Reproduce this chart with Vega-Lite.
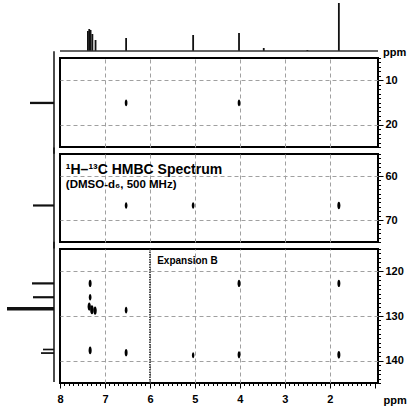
{
  "$schema": "https://vega.github.io/schema/vega-lite/v6.json",
  "padding": {"left": 4, "top": 2, "right": 0, "bottom": 0},
  "bounds": "flush",
  "columns": 2,
  "spacing": {"row": 7, "column": 6},
  "config": {
    "view": {"stroke": null},
    "font": "Liberation Sans",
    "axis": {"labelFont": "Liberation Sans", "labelFontSize": 11, "labelFontWeight": "bold", "labelColor": "black", "tickColor": "black", "gridColor": "#a0a0a0", "gridDash": [4, 3], "gridWidth": 1}
  },
  "datasets": {
    "h1": [
      {"ppm": 7.38, "intensity": 20}, {"ppm": 7.35, "intensity": 22}, {"ppm": 7.32, "intensity": 21},
      {"ppm": 7.28, "intensity": 17}, {"ppm": 7.21, "intensity": 11}, {"ppm": 6.53, "intensity": 13},
      {"ppm": 5.04, "intensity": 16}, {"ppm": 4.02, "intensity": 18}, {"ppm": 3.47, "intensity": 3},
      {"ppm": 2.5, "intensity": 1}, {"ppm": 1.8, "intensity": 48}
    ],
    "c13": [
      {"panel": 1, "c": 15.1, "intensity": 24},
      {"panel": 2, "c": 66.7, "intensity": 21},
      {"panel": 3, "c": 122.7, "intensity": 22},
      {"panel": 3, "c": 125.8, "intensity": 21},
      {"panel": 3, "c": 128.4, "intensity": 47},
      {"panel": 3, "c": 137.5, "intensity": 11},
      {"panel": 3, "c": 138.3, "intensity": 13}
    ],
    "cross": [
      {"panel": 1, "h": 6.53, "c": 15.1, "intensity": 1},
      {"panel": 1, "h": 4.02, "c": 15.1, "intensity": 1},
      {"panel": 2, "h": 6.53, "c": 66.7, "intensity": 1},
      {"panel": 2, "h": 5.04, "c": 66.7, "intensity": 1},
      {"panel": 2, "h": 1.8, "c": 66.7, "intensity": 1.3},
      {"panel": 3, "h": 7.33, "c": 122.7, "intensity": 1.2},
      {"panel": 3, "h": 4.02, "c": 122.7, "intensity": 1.2},
      {"panel": 3, "h": 1.8, "c": 122.7, "intensity": 1.2},
      {"panel": 3, "h": 7.33, "c": 125.8, "intensity": 1},
      {"panel": 3, "h": 7.35, "c": 127.9, "intensity": 1.5},
      {"panel": 3, "h": 7.29, "c": 128.6, "intensity": 1.8},
      {"panel": 3, "h": 7.22, "c": 128.8, "intensity": 1.5},
      {"panel": 3, "h": 6.53, "c": 128.7, "intensity": 1},
      {"panel": 3, "h": 7.33, "c": 137.7, "intensity": 1.3},
      {"panel": 3, "h": 6.53, "c": 138.2, "intensity": 1.2},
      {"panel": 3, "h": 5.04, "c": 138.8, "intensity": 0.8},
      {"panel": 3, "h": 4.02, "c": 138.7, "intensity": 1.1},
      {"panel": 3, "h": 1.8, "c": 138.7, "intensity": 1.3}
    ]
  },
  "concat": [
    {
      "width": 50, "height": 49,
      "data": {"values": [{}]},
      "mark": {"type": "text", "text": ""},
      "encoding": {}
    },
    {
      "width": 318, "height": 49,
      "layer": [
        {
          "data": {"name": "h1"},
          "mark": {"type": "rule", "strokeWidth": 1.8, "color": "#111"},
          "encoding": {
            "x": {"field": "ppm", "type": "quantitative", "scale": {"domain": [8, 0.93], "nice": false, "zero": false}, "axis": null},
            "y": {"field": "intensity", "type": "quantitative", "scale": {"domain": [0, 49], "nice": false}, "axis": null},
            "y2": {"datum": 0}
          }
        },
        {
          "data": {"values": [{}]},
          "mark": {"type": "rule", "strokeWidth": 1.5, "color": "#333"},
          "encoding": {"y": {"datum": 0, "type": "quantitative"}}
        },
        {
          "data": {"values": [{}]},
          "mark": {"type": "text", "text": "ppm", "align": "left", "baseline": "middle", "fontSize": 11, "fontWeight": "bold", "color": "black"},
          "encoding": {"x": {"datum": 0.82, "type": "quantitative"}, "y": {"datum": -1.5, "type": "quantitative"}}
        }
      ]
    },
    {
      "width": 50, "height": 89,
      "layer": [
        {
          "data": {"name": "c13"},
          "transform": [{"filter": "datum.panel == 1"}],
          "mark": {"type": "rule", "color": "#111"},
          "encoding": {
            "y": {"field": "c", "type": "quantitative", "scale": {"domain": [5, 25], "reverse": true, "nice": false, "zero": false}, "axis": null},
            "x": {"field": "intensity", "type": "quantitative", "scale": {"domain": [0, 50], "reverse": true, "nice": false}, "axis": null},
            "x2": {"datum": 0},
            "strokeWidth": {"field": "intensity", "type": "quantitative", "scale": {"domain": [10, 47], "range": [1.6, 3.5]}, "legend": null}
          }
        },
        {
          "data": {"values": [{}]},
          "mark": {"type": "rule", "color": "#111", "strokeWidth": 1.5},
          "encoding": {"x": {"datum": 0, "type": "quantitative"}, "y": {"datum": 3.5, "type": "quantitative"}, "y2": {"datum": 26.5}}
        }
      ]
    },
    {
      "width": 318, "height": 89,
      "view": {"stroke": "black", "strokeWidth": 2},
      "layer": [
        {
          "data": {"name": "cross"},
          "transform": [{"filter": "datum.panel == 1"}],
          "mark": {"type": "point", "filled": true, "color": "black", "opacity": 1, "shape": "M0,-1A0.4,1,0,1,1,0,1A0.4,1,0,1,1,0,-1Z"},
          "encoding": {
            "x": {"field": "h", "type": "quantitative", "scale": {"domain": [8, 0.93], "nice": false, "zero": false},
                  "axis": {"orient": "bottom", "values": [7, 6, 5, 4, 3, 2], "grid": true, "labels": false, "ticks": false, "domain": false, "title": null}},
            "y": {"field": "c", "type": "quantitative", "scale": {"domain": [5, 25], "reverse": true, "nice": false, "zero": false},
                  "axis": {"orient": "right", "tickCount": 20, "domain": false, "title": null, "labelOverlap": false, "labelBound": false, "labelFlush": false,
                           "labelExpr": "datum.value % 10 === 0 ? datum.value : ''", "labelPadding": 2,
                           "tickSize": {"condition": {"test": "datum.value % 10 === 0", "value": 5}, "value": 2.5},
                           "grid": true, "gridOpacity": {"condition": {"test": "datum.value % 10 === 0", "value": 1}, "value": 0}}},
            "size": {"field": "intensity", "type": "quantitative", "scale": {"domain": [0, 2], "range": [0, 90]}, "legend": null}
          }
        }
      ]
    },
    {
      "width": 50, "height": 88,
      "layer": [
        {
          "data": {"name": "c13"},
          "transform": [{"filter": "datum.panel == 2"}],
          "mark": {"type": "rule", "color": "#111"},
          "encoding": {
            "y": {"field": "c", "type": "quantitative", "scale": {"domain": [55, 75], "reverse": true, "nice": false, "zero": false}, "axis": null},
            "x": {"field": "intensity", "type": "quantitative", "scale": {"domain": [0, 50], "reverse": true, "nice": false}, "axis": null},
            "x2": {"datum": 0},
            "strokeWidth": {"field": "intensity", "type": "quantitative", "scale": {"domain": [10, 47], "range": [1.6, 3.5]}, "legend": null}
          }
        },
        {
          "data": {"values": [{}]},
          "mark": {"type": "rule", "color": "#111", "strokeWidth": 1.5},
          "encoding": {"x": {"datum": 0, "type": "quantitative"}, "y": {"datum": 53.5, "type": "quantitative"}, "y2": {"datum": 76.5}}
        }
      ]
    },
    {
      "width": 318, "height": 88,
      "view": {"stroke": "black", "strokeWidth": 2},
      "layer": [
        {
          "data": {"name": "cross"},
          "transform": [{"filter": "datum.panel == 2"}],
          "mark": {"type": "point", "filled": true, "color": "black", "opacity": 1, "shape": "M0,-1A0.4,1,0,1,1,0,1A0.4,1,0,1,1,0,-1Z"},
          "encoding": {
            "x": {"field": "h", "type": "quantitative", "scale": {"domain": [8, 0.93], "nice": false, "zero": false},
                  "axis": {"orient": "bottom", "values": [7, 6, 5, 4, 3, 2], "grid": true, "labels": false, "ticks": false, "domain": false, "title": null}},
            "y": {"field": "c", "type": "quantitative", "scale": {"domain": [55, 75], "reverse": true, "nice": false, "zero": false},
                  "axis": {"orient": "right", "tickCount": 20, "domain": false, "title": null, "labelOverlap": false, "labelBound": false, "labelFlush": false,
                           "labelExpr": "datum.value % 10 === 0 ? datum.value : ''", "labelPadding": 2,
                           "tickSize": {"condition": {"test": "datum.value % 10 === 0", "value": 5}, "value": 2.5},
                           "grid": true, "gridOpacity": {"condition": {"test": "datum.value % 10 === 0", "value": 1}, "value": 0}}},
            "size": {"field": "intensity", "type": "quantitative", "scale": {"domain": [0, 2], "range": [0, 90]}, "legend": null}
          }
        },
        {
          "data": {"values": [{}]},
          "mark": {"type": "text", "text": "¹H–¹³C HMBC Spectrum", "align": "left", "baseline": "alphabetic", "fontSize": 14, "fontWeight": "bold", "color": "black"},
          "encoding": {"x": {"datum": 7.87, "type": "quantitative"}, "y": {"datum": 59.6, "type": "quantitative"}}
        },
        {
          "data": {"values": [{}]},
          "mark": {"type": "text", "text": "(DMSO-d₆, 500 MHz)", "align": "left", "baseline": "alphabetic", "fontSize": 11.5, "fontWeight": "bold", "color": "black", "font": "Liberation Sans, DejaVu Sans"},
          "encoding": {"x": {"datum": 7.87, "type": "quantitative"}, "y": {"datum": 62.7, "type": "quantitative"}}
        }
      ]
    },
    {
      "width": 50, "height": 134,
      "layer": [
        {
          "data": {"name": "c13"},
          "transform": [{"filter": "datum.panel == 3"}],
          "mark": {"type": "rule", "color": "#111"},
          "encoding": {
            "y": {"field": "c", "type": "quantitative", "scale": {"domain": [115, 145], "reverse": true, "nice": false, "zero": false}, "axis": null},
            "x": {"field": "intensity", "type": "quantitative", "scale": {"domain": [0, 50], "reverse": true, "nice": false}, "axis": null},
            "x2": {"datum": 0},
            "strokeWidth": {"field": "intensity", "type": "quantitative", "scale": {"domain": [10, 47], "range": [1.6, 3.5]}, "legend": null}
          }
        },
        {
          "data": {"values": [{}]},
          "mark": {"type": "rule", "color": "#111", "strokeWidth": 1.5},
          "encoding": {"x": {"datum": 0, "type": "quantitative"}, "y": {"datum": 113.4, "type": "quantitative"}, "y2": {"datum": 144.8}}
        }
      ]
    },
    {
      "width": 318, "height": 134,
      "view": {"stroke": "black", "strokeWidth": 2},
      "layer": [
        {
          "data": {"name": "cross"},
          "transform": [{"filter": "datum.panel == 3"}],
          "mark": {"type": "point", "filled": true, "color": "black", "opacity": 1, "shape": "M0,-1A0.4,1,0,1,1,0,1A0.4,1,0,1,1,0,-1Z"},
          "encoding": {
            "x": {"field": "h", "type": "quantitative", "scale": {"domain": [8, 0.93], "nice": false, "zero": false},
                  "axis": {"orient": "bottom", "tickCount": 70, "domain": false, "labelOverlap": false, "labelBound": false, "labelFlush": false,
                           "labelExpr": "abs(datum.value - round(datum.value)) < 0.01 && datum.value > 1.5 ? format(datum.value, 'd') : ''",
                           "labelPadding": 5,
                           "tickSize": {"condition": {"test": "abs(datum.value - round(datum.value)) < 0.01", "value": 5}, "value": 2.5},
                           "grid": true, "gridOpacity": {"condition": {"test": "abs(datum.value - round(datum.value)) < 0.01 && datum.value > 1.5 && datum.value < 7.5", "value": 1}, "value": 0},
                           "title": "ppm", "titleFont": "Liberation Sans", "titleFontSize": 11, "titleFontWeight": "bold", "titleColor": "black",
                           "titleAlign": "left", "titleBaseline": "middle", "titleX": 323, "titleY": 17}},
            "y": {"field": "c", "type": "quantitative", "scale": {"domain": [115, 145], "reverse": true, "nice": false, "zero": false},
                  "axis": {"orient": "right", "tickCount": 30, "domain": false, "title": null, "labelOverlap": false, "labelBound": false, "labelFlush": false,
                           "labelExpr": "datum.value % 10 === 0 ? datum.value : ''", "labelPadding": 2,
                           "tickSize": {"condition": {"test": "datum.value % 10 === 0", "value": 5}, "value": 2.5},
                           "grid": true, "gridOpacity": {"condition": {"test": "datum.value % 10 === 0", "value": 1}, "value": 0}}},
            "size": {"field": "intensity", "type": "quantitative", "scale": {"domain": [0, 2], "range": [0, 90]}, "legend": null}
          }
        },
        {
          "data": {"values": [{}]},
          "mark": {"type": "rule", "strokeDash": [1.5, 1], "strokeWidth": 1.5, "color": "#222"},
          "encoding": {"x": {"datum": 6, "type": "quantitative"}}
        },
        {
          "data": {"values": [{}]},
          "mark": {"type": "text", "text": "Expansion B", "align": "left", "baseline": "alphabetic", "fontSize": 10, "fontWeight": "bold", "color": "black"},
          "encoding": {"x": {"datum": 5.84, "type": "quantitative"}, "y": {"datum": 118.4, "type": "quantitative"}}
        }
      ]
    }
  ]
}
